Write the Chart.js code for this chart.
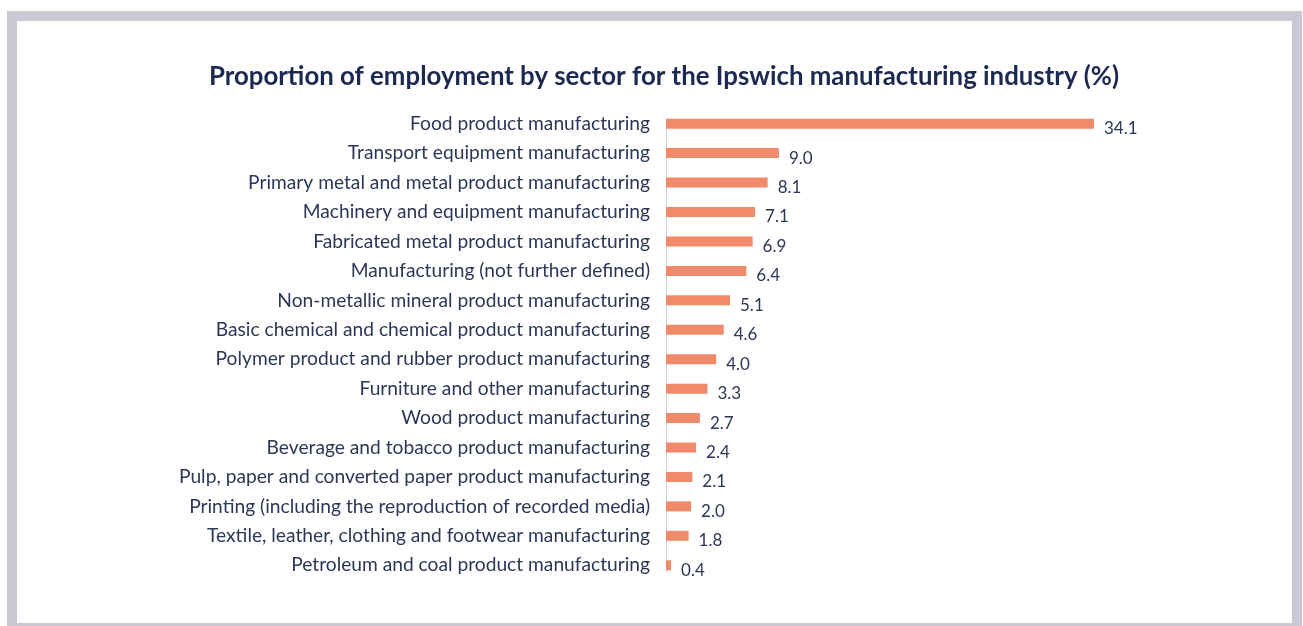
<!DOCTYPE html>
<html>
<head>
<meta charset="utf-8">
<script src="https://cdn.jsdelivr.net/npm/chart.js@4/dist/chart.umd.min.js"></script>
<style>
  html, body { margin: 0; padding: 0; background: #fff; }
  body { width: 1303px; height: 626px; overflow: hidden; position: relative; }
  .card {
    position: absolute; left: 7px; top: 11px;
    width: 1275px; height: 602px;
    border: 10px solid #c9c8d5;
    background: #fff;
  }
  .card canvas { display: block; }
</style>
</head>
<body>
<div class="card"><canvas id="sectorChart" width="1275" height="602"></canvas></div>
<script>
const sectors = [
  "Food product manufacturing",
  "Transport equipment manufacturing",
  "Primary metal and metal product manufacturing",
  "Machinery and equipment manufacturing",
  "Fabricated metal product manufacturing",
  "Manufacturing (not further defined)",
  "Non-metallic mineral product manufacturing",
  "Basic chemical and chemical product manufacturing",
  "Polymer product and rubber product manufacturing",
  "Furniture and other manufacturing",
  "Wood product manufacturing",
  "Beverage and tobacco product manufacturing",
  "Pulp, paper and converted paper product manufacturing",
  "Printing (including the reproduction of recorded media)",
  "Textile, leather, clothing and footwear manufacturing",
  "Petroleum and coal product manufacturing"
];
const shares = [34.1, 9.0, 8.1, 7.1, 6.9, 6.4, 5.1, 4.6, 4.0, 3.3, 2.7, 2.4, 2.1, 2.0, 1.8, 0.4];

const navy = "#2c3656";

// thin axis line spanning the bars only
const axisLine = {
  id: "axisLine",
  beforeDatasetsDraw(chart) {
    const bars = chart.getDatasetMeta(0).data;
    const first = bars[0], last = bars[bars.length - 1];
    const x = chart.scales.x.getPixelForValue(0);
    const ctx = chart.ctx;
    ctx.save();
    ctx.strokeStyle = "#d3d3db";
    ctx.lineWidth = 1;
    ctx.beginPath();
    ctx.moveTo(x + 0.5, first.y - first.height / 2);
    ctx.lineTo(x + 0.5, last.y + last.height / 2 + 2);
    ctx.stroke();
    ctx.restore();
  }
};

// value printed to the right of each bar
const valueLabels = {
  id: "valueLabels",
  afterDatasetsDraw(chart) {
    const ctx = chart.ctx;
    ctx.save();
    ctx.font = "17px Lato";
    ctx.fillStyle = navy;
    ctx.textAlign = "left";
    ctx.textBaseline = "middle";
    chart.getDatasetMeta(0).data.forEach((bar, i) => {
      ctx.fillText(shares[i].toFixed(1), bar.x + 10, bar.y + 5);
    });
    ctx.restore();
  }
};

new Chart(document.getElementById("sectorChart"), {
  type: "bar",
  data: {
    labels: sectors,
    datasets: [{
      data: shares,
      backgroundColor: "#f08a6a",
      barPercentage: 0.34,
      categoryPercentage: 1.0
    }]
  },
  options: {
    indexAxis: "y",
    responsive: false,
    animation: false,
    layout: { padding: { left: 143, right: 124, top: 0, bottom: 43 } },
    plugins: {
      legend: { display: false },
      tooltip: { enabled: false },
      title: {
        display: true,
        text: "Proportion of employment by sector for the Ipswich manufacturing industry (%)",
        color: "#1c2950",
        font: { family: "Lato", size: 25.8, weight: "bold" },
        padding: { top: 40, bottom: 17 }
      }
    },
    scales: {
      x: { display: false, min: 0, max: 40 },
      y: {
        grid: { display: false, drawTicks: false },
        border: { display: false },
        afterFit(scale) { scale.width = 506; },
        ticks: {
          color: navy,
          padding: 16,
          font: { family: "Lato", size: 19.2 }
        }
      }
    }
  },
  plugins: [axisLine, valueLabels]
});
</script>
</body>
</html>
